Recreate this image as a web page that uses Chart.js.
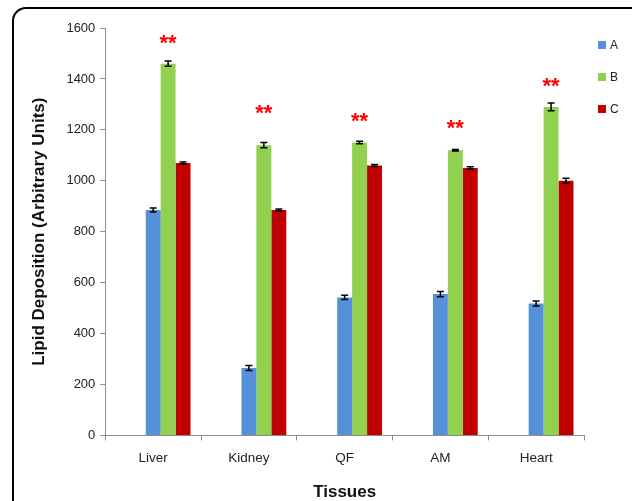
<!DOCTYPE html>
<html>
<head>
<meta charset="utf-8">
<script src="https://cdn.jsdelivr.net/npm/chart.js@4/dist/chart.umd.min.js"></script>
<style>
  body { margin: 0; overflow: hidden; background: #fff; }
  #wrap { position: relative; width: 632px; height: 501px; overflow: hidden; }
  #frame { position: absolute; left: 12px; top: 7px; width: 660px; height: 540px;
           border: 2px solid #000; border-radius: 14px; }
  canvas { position: absolute; left: 0; top: 0; }
</style>
</head>
<body>
<div id="wrap">
  <div id="frame"></div>
  <canvas id="chart" width="632" height="501"></canvas>
</div>
<script>
// values
const tissues = ['Liver', 'Kidney', 'QF', 'AM', 'Heart'];
const seriesA = [885, 265, 542, 555, 518];
const seriesB = [1460, 1140, 1150, 1120, 1290];
const seriesC = [1070, 885, 1060, 1050, 1000];
const errA = [8, 10, 8, 10, 10];
const errB = [10, 10, 5, 3, 15];
const errC = [4, 4, 4, 5, 10];
// where the "**" marks sit (in axis units), above series B
const starLevels = [1555, 1280, 1245, 1220, 1385];

const errors = [errA, errB, errC];
const FONT = '"Liberation Sans", Arial, sans-serif';

// error bars, stars and the legend on the right
const extrasPlugin = {
  id: 'extras',
  afterDatasetsDraw(chart) {
    const ctx = chart.ctx;
    const y = chart.scales.y;
    ctx.save();
    ctx.strokeStyle = '#000';
    ctx.lineWidth = 1.5;
    for (let s = 0; s < 3; s++) {
      const dsIndex = s + 2; // first two datasets are empty spacers
      const meta = chart.getDatasetMeta(dsIndex);
      const vals = chart.data.datasets[dsIndex].data;
      meta.data.forEach((bar, j) => {
        const e = errors[s][j];
        const yt = y.getPixelForValue(vals[j] + e);
        const yb = y.getPixelForValue(vals[j] - e);
        ctx.beginPath();
        ctx.moveTo(bar.x, yt); ctx.lineTo(bar.x, yb);
        ctx.moveTo(bar.x - 3.5, yt); ctx.lineTo(bar.x + 3.5, yt);
        ctx.moveTo(bar.x - 3.5, yb); ctx.lineTo(bar.x + 3.5, yb);
        ctx.stroke();
      });
    }
    // stars
    const metaB = chart.getDatasetMeta(3);
    ctx.fillStyle = '#ff0000';
    ctx.font = 'bold 22px ' + FONT;
    ctx.textAlign = 'center';
    ctx.textBaseline = 'middle';
    metaB.data.forEach((bar, j) => {
      ctx.fillText('**', bar.x, y.getPixelForValue(starLevels[j]) + 4);
    });
    // legend
    ctx.font = '12px ' + FONT;
    ctx.textAlign = 'left';
    const lx = chart.chartArea.right + 14;
    chart.data.datasets.slice(2).forEach((ds, i) => {
      const cy = 45 + i * 32;
      ctx.fillStyle = ds.backgroundColor;
      ctx.fillRect(lx, cy - 4, 8, 8);
      ctx.fillStyle = '#222';
      ctx.fillText(ds.label, lx + 12, cy + 1);
    });
    ctx.restore();
  }
};

new Chart(document.getElementById('chart'), {
  type: 'bar',
  data: {
    labels: tissues,
    datasets: [
      { label: '', data: [] },
      { label: '', data: [] },
      { label: 'A', data: seriesA, backgroundColor: '#5590d8' },
      { label: 'B', data: seriesB, backgroundColor: '#92d050' },
      { label: 'C', data: seriesC, backgroundColor: '#c00000' }
    ]
  },
  options: {
    responsive: false,
    animation: false,
    devicePixelRatio: 1,
    categoryPercentage: 0.78,
    barPercentage: 1.0,
    layout: { padding: { left: 29, top: 28, right: 48, bottom: -2 } },
    plugins: {
      tooltip: { enabled: false },
      legend: { display: false }
    },
    scales: {
      x: {
        grid: { drawOnChartArea: false, offset: true, tickLength: 5, color: '#8c8c8c' },
        border: { color: '#8c8c8c' },
        ticks: { color: '#222', padding: 10, font: { family: FONT, size: 13.5 } },
        title: { display: true, text: 'Tissues', color: '#111',
                 padding: { top: 6, bottom: 0 },
                 font: { family: FONT, size: 17, weight: 'bold' } }
      },
      y: {
        min: 0,
        max: 1600,
        grid: { drawOnChartArea: false, tickLength: 5, color: '#8c8c8c' },
        border: { color: '#8c8c8c' },
        ticks: { stepSize: 200, color: '#222', padding: 5,
                 callback: v => String(v),
                 font: { family: FONT, size: 13 } },
        title: { display: true, text: 'Lipid Deposition (Arbitrary Units)', color: '#111',
                 padding: { top: 0, bottom: 12 },
                 font: { family: FONT, size: 17, weight: 'bold' } }
      }
    }
  },
  plugins: [extrasPlugin]
});
</script>
</body>
</html>
